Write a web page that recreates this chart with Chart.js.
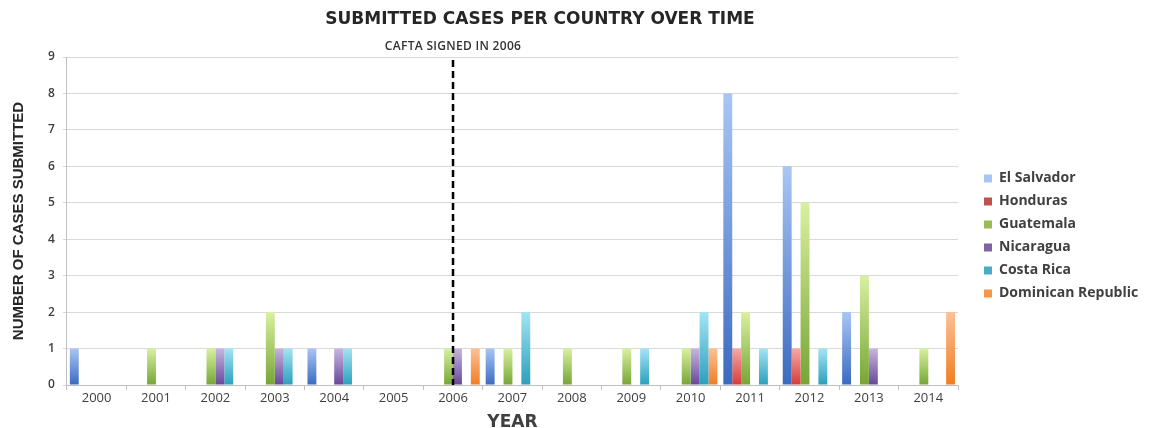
<!DOCTYPE html>
<html><head><meta charset="utf-8">
<script src="https://cdn.jsdelivr.net/npm/chart.js@4.4.0/dist/chart.umd.min.js"></script>
<style>html,body{margin:0;padding:0;background:#fff}#wrap{width:1153px;height:428px}</style>
</head><body><div id="wrap"><canvas id="c"></canvas></div>
<script>
const years = ['2000','2001','2002','2003','2004','2005','2006','2007','2008','2009','2010','2011','2012','2013','2014'];
const elSalvador = [1,0,0,0,1,0,0,1,0,0,0,8,6,2,0];
const honduras   = [0,0,0,0,0,0,0,0,0,0,0,1,1,0,0];
const guatemala  = [0,1,1,2,0,0,1,1,1,1,1,2,5,3,1];
const nicaragua  = [0,0,1,1,1,0,1,0,0,0,1,0,0,1,0];
const costaRica  = [0,0,1,1,1,0,0,2,0,1,2,1,1,0,0];
const dominican  = [0,0,0,0,0,0,1,0,0,0,1,0,0,0,2];
const seriesNames = ['El Salvador','Honduras','Guatemala','Nicaragua','Costa Rica','Dominican Republic'];
const yTicks = [0,1,2,3,4,5,6,7,8,9];
const markerYear = '2006';
const markerLabel = 'CAFTA SIGNED IN 2006';
const chartTitle = 'SUBMITTED CASES PER COUNTRY OVER TIME';

const palette = [
  ['#a9c6f3','#3a6ac0','#4f81bd'],
  ['#f5a9a6','#d63c37','#c0504d'],
  ['#d9f0a0','#76a535','#9bbb59'],
  ['#c6b6df','#67479a','#8064a2'],
  ['#a3e4f4','#2a9fbc','#4bacc6'],
  ['#fcc196','#f07d22','#f79646']
];
function grad(i){
  return (ctx) => {
    const chart = ctx.chart;
    const v = ctx.raw;
    if (!chart.chartArea || ctx.type !== 'data' || !v) return palette[i][2];
    const y = chart.scales.y;
    const g = chart.ctx.createLinearGradient(0, y.getPixelForValue(v), 0, y.getPixelForValue(0));
    g.addColorStop(0, palette[i][0]);
    g.addColorStop(1, palette[i][1]);
    return g;
  };
}
const allData = [elSalvador, honduras, guatemala, nicaragua, costaRica, dominican];
const datasets = allData.map((d,i)=>({label: seriesNames[i], data: d, backgroundColor: grad(i), borderWidth:0, barPercentage:1.0, categoryPercentage:0.9}));

const legendPlace = {
  id:'legendPlace',
  afterInit(chart){
    const lg = chart.legend;
    if (lg) {
      const f = lg.fit;
      lg.fit = function(){ f.call(this); this.width = 195; };
    }
  },
  afterLayout(chart){
    const lg = chart.legend;
    if (lg) {
      lg.left += 17; lg.width -= 17;
      lg.top -= 9; lg.bottom -= 9;
    }
  }
};

const overlay = {
  id:'overlay',
  afterDatasetsDraw(chart){
    const {ctx, chartArea, scales} = chart;
    const x = scales.x.getPixelForValue(years.indexOf(markerYear));
    ctx.save();
    ctx.strokeStyle = '#000';
    ctx.lineWidth = 2.5;
    ctx.setLineDash([7,4]);
    ctx.beginPath();
    ctx.moveTo(x, chartArea.top + 3);
    ctx.lineTo(x, chartArea.bottom);
    ctx.stroke();
    ctx.setLineDash([]);
    ctx.fillStyle = '#333';
    ctx.font = '600 12px "Open Sans", sans-serif';
    ctx.textAlign = 'center';
    ctx.textBaseline = 'middle';
    try { ctx.letterSpacing = '0.3px'; } catch(e) {}
    ctx.fillText(markerLabel, x, chartArea.top - 10);
    try { ctx.letterSpacing = '0px'; } catch(e) {}
    ctx.fillStyle = '#262626';
    ctx.font = 'bold 17px "DejaVu Sans", sans-serif';
    ctx.fillText(chartTitle, 540, 20);
    ctx.restore();
  }
};

new Chart(document.getElementById('c'), {
  type:'bar',
  data:{labels: years, datasets},
  plugins:[legendPlace, overlay],
  options:{
    responsive:true, maintainAspectRatio:false, animation:false,
    layout:{padding:{top:57,left:10,right:0,bottom:-5}},
    plugins:{
      title:{display:false},
      tooltip:{enabled:false},
      legend:{
        position:'right',
        labels:{boxWidth:8, boxHeight:8, padding:9, color:'#404040', font:{family:'"Open Sans", sans-serif', size:14, weight:'bold'}}
      }
    },
    scales:{
      x:{
        grid:{display:true, drawOnChartArea:false, offset:true, tickLength:5, color:'#bfbfbf'},
        border:{color:'#bfbfbf'},
        ticks:{color:'#404040', font:{family:'"Open Sans", sans-serif', size:13}, padding:0},
        title:{display:true, text:'YEAR', color:'#404040', font:{family:'"DejaVu Sans", sans-serif', size:17, weight:'bold'}, padding:{top:7,bottom:0}}
      },
      y:{
        min:0, max:9,
        afterBuildTicks(scale){ scale.ticks = yTicks.map(v=>({value:v})); },
        ticks:{color:'#404040', font:{family:'"Open Sans", sans-serif', size:12, weight:'600'}, padding:8},
        grid:{color:'#d9d9d9', tickLength:4},
        border:{color:'#bfbfbf'},
        title:{display:true, text:'NUMBER OF CASES SUBMITTED', color:'#262626', font:{family:'"Liberation Sans", sans-serif', size:15, weight:'bold'}, padding:{top:0,bottom:12}}
      }
    }
  }
});
</script></body></html>
